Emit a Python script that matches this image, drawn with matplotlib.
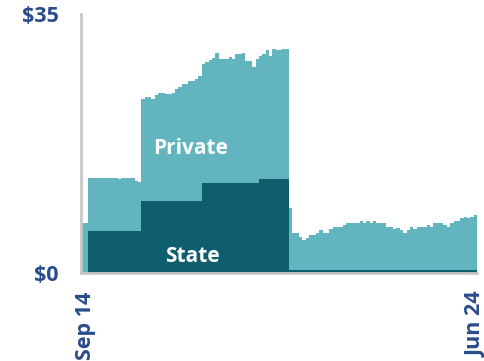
import numpy as np
import matplotlib
matplotlib.use("Agg")
import matplotlib.pyplot as plt

# monthly values, Sep 2014 .. Jun 2024 ($)
total = [
    6.8, 6.8, 12.8, 12.8, 12.8, 12.9, 12.9, 12.9, 12.9, 12.9,
    12.9, 12.7, 12.9, 12.9, 12.8, 12.8, 12.5, 12.3,
    23.6, 23.8, 23.8, 23.6, 24.1, 24.4, 24.4, 24.2, 24.2, 24.4,
    24.9, 25.2, 25.5, 25.5, 26.0, 26.0, 26.3, 26.6,
    28.2, 28.5, 28.8, 29.1, 29.8, 29.0, 29.0, 29.0, 29.2, 29.0,
    29.6, 29.6, 29.7, 28.7, 28.7, 27.9, 29.0,
    29.3, 29.6, 30.1, 29.3, 30.3, 30.2, 30.2, 30.3, 30.3,
    8.8, 5.5, 5.5, 4.9, 4.5, 4.8, 5.2, 5.2, 5.4, 5.8,
    5.5, 5.5, 6.0, 6.3, 6.3, 6.3, 6.5, 6.8, 6.8, 6.8,
    6.8, 7.1, 6.8, 7.1, 6.8, 7.1, 6.8, 6.8, 6.8, 6.3,
    6.3, 6.0, 6.1, 5.9, 5.4, 5.9, 6.3, 6.0, 6.3, 6.3,
    6.3, 6.5, 6.3, 6.8, 6.8, 6.8, 6.5, 6.3, 6.8, 7.1,
    7.1, 7.4, 7.6, 7.4, 7.6, 7.9,
]
state = [0.0] * 2 + [5.7] * 16 + [9.7] * 18 + [12.2] * 17 + [12.7] * 9 + [0.4] * 56
tick_labels = ["Sep 14", "Jun 24"]

total = np.array(total)
state = np.array(state)
n = len(total)
x = np.arange(n + 1)
tot_e = np.append(total, total[-1])
st_e = np.append(state, state[-1])

light = "#62B4BE"
dark = "#0F5E6F"
blue = "#2B4C8C"

fig = plt.figure(figsize=(4.85, 3.61), dpi=100)
ax = fig.add_axes([0.167, 0.243, 0.8165, 0.718])

ax.fill_between(x, 0, tot_e, step="post", color=light, lw=0)
ax.fill_between(x, 0, st_e, step="post", color=dark, lw=0)

ax.set_xlim(0, n)
ax.set_ylim(0, 35)

for s in ["top", "right"]:
    ax.spines[s].set_visible(False)
for s in ["left", "bottom"]:
    ax.spines[s].set_color("#C8C8C8")
    ax.spines[s].set_linewidth(2)

ax.set_yticks([0, 35])
ax.set_yticklabels(["$0", "$35"], fontsize=15.5, fontweight="bold",
                   color=blue, family="Open Sans")
ax.set_xticks([1.2, n - 0.2])
ax.set_xticklabels(tick_labels, rotation=90, fontsize=15.5, fontweight="bold",
                   color=blue, family="Open Sans", va="top", ha="center")
ax.tick_params(axis="y", length=0, pad=16)
ax.tick_params(axis="x", length=0, pad=13)

ax.text(32.5, 16.8, "Private", color="white", fontsize=15, fontweight="bold",
        family="Open Sans", ha="center", va="center")
ax.text(33.1, 2.3, "State", color="white", fontsize=15, fontweight="bold",
        family="Open Sans", ha="center", va="center")

fig.savefig("out.png", dpi=100)
